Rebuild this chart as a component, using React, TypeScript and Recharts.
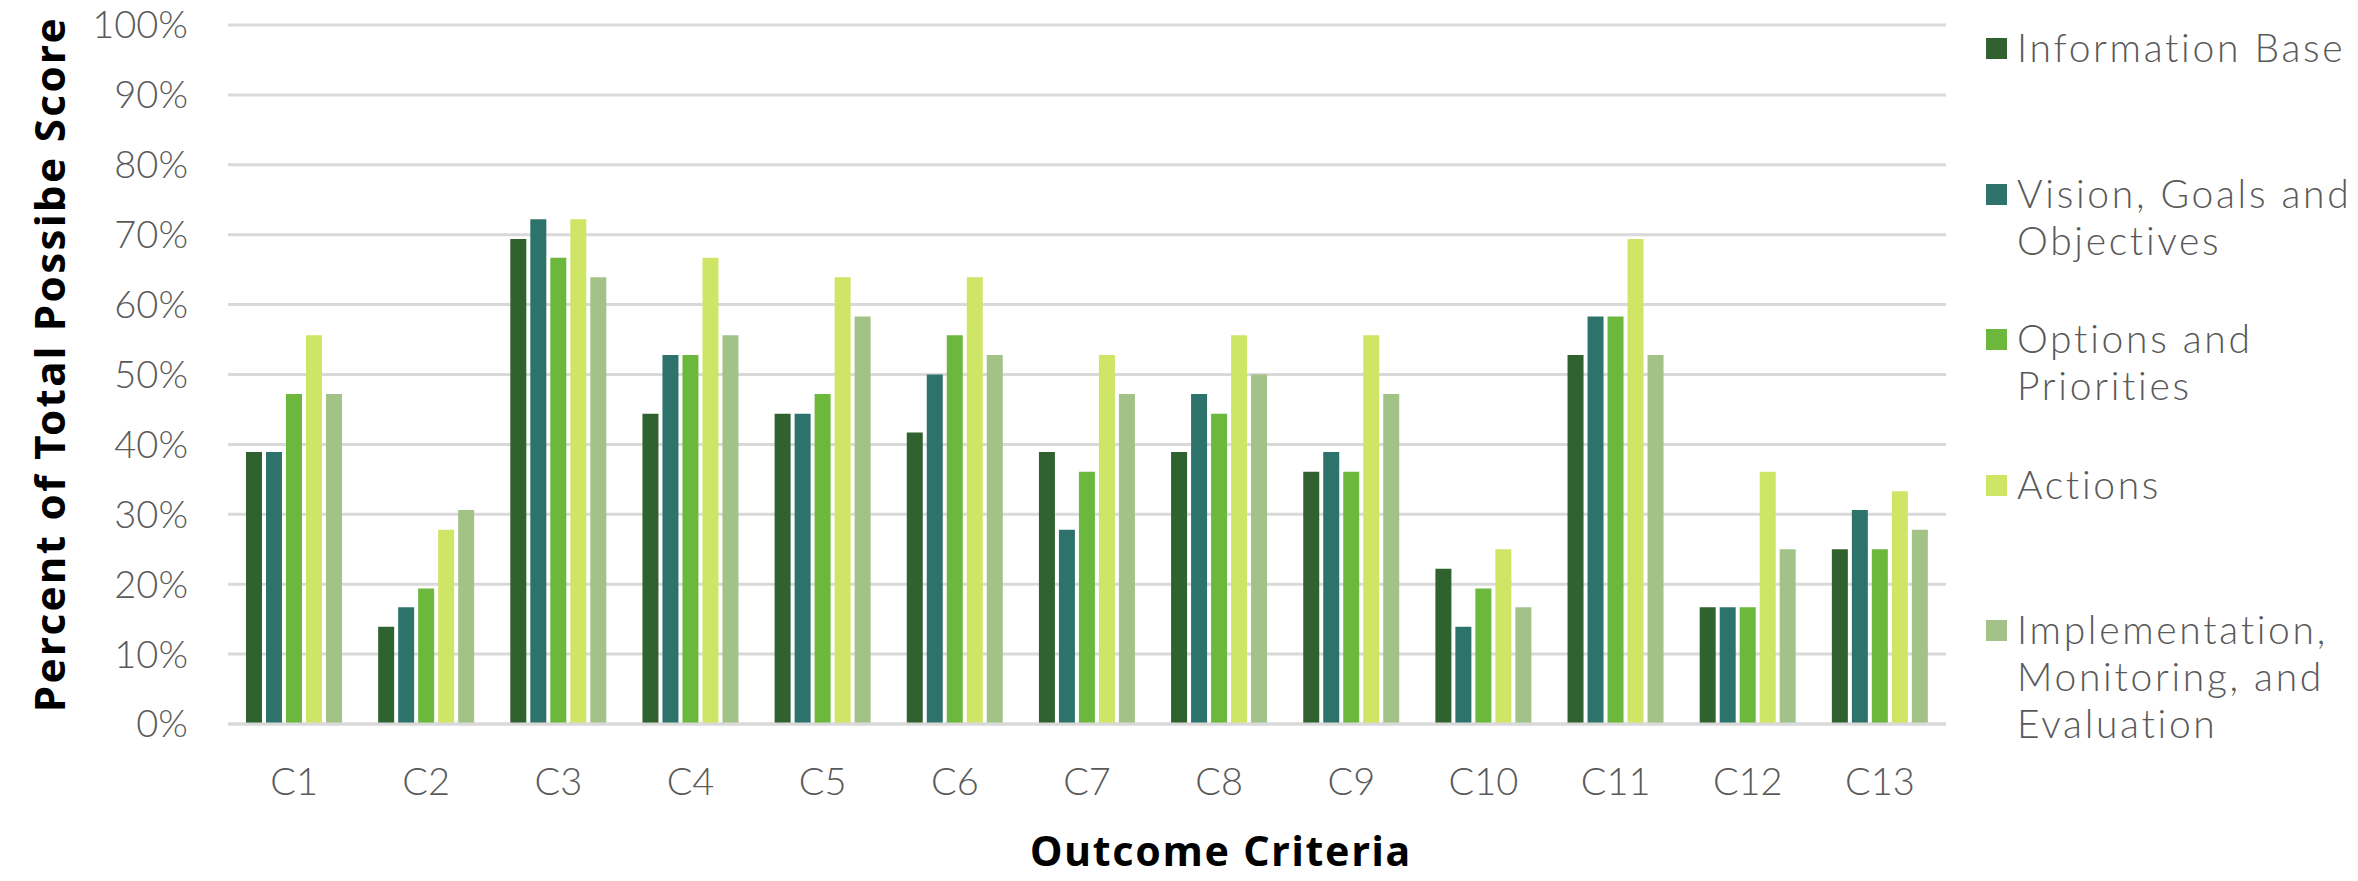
import React from 'react';
import { BarChart, Bar, XAxis, YAxis, CartesianGrid } from 'recharts';

// Outcome criteria along the x axis
const criteria = ['C1', 'C2', 'C3', 'C4', 'C5', 'C6', 'C7', 'C8', 'C9', 'C10', 'C11', 'C12', 'C13'];

// Share of total possible score per plan component (fractions)
const informationBase = [0.389, 0.139, 0.694, 0.444, 0.444, 0.417, 0.389, 0.389, 0.361, 0.222, 0.528, 0.167, 0.25];
const visionGoals = [0.389, 0.167, 0.722, 0.528, 0.444, 0.5, 0.278, 0.472, 0.389, 0.139, 0.583, 0.167, 0.306];
const optionsPriorities = [0.472, 0.194, 0.667, 0.528, 0.472, 0.556, 0.361, 0.444, 0.361, 0.194, 0.583, 0.167, 0.25];
const actions = [0.556, 0.278, 0.722, 0.667, 0.639, 0.639, 0.528, 0.556, 0.556, 0.25, 0.694, 0.361, 0.333];
const implementation = [0.472, 0.306, 0.639, 0.556, 0.583, 0.528, 0.472, 0.5, 0.472, 0.167, 0.528, 0.25, 0.278];

const yTicks = [0, 0.1, 0.2, 0.3, 0.4, 0.5, 0.6, 0.7, 0.8, 0.9, 1];

const series = [
  { key: 'ib', values: informationBase, color: '#2f622e', lines: ['Information Base'] },
  { key: 'vg', values: visionGoals, color: '#2e736b', lines: ['Vision, Goals and', 'Objectives'] },
  { key: 'op', values: optionsPriorities, color: '#6cb83d', lines: ['Options and', 'Priorities'] },
  { key: 'ac', values: actions, color: '#cfe566', lines: ['Actions'] },
  { key: 'im', values: implementation, color: '#a2c288', lines: ['Implementation,', 'Monitoring, and', 'Evaluation'] },
];

const data = criteria.map((name, i) => {
  const row: Record<string, any> = { name };
  series.forEach(s => { row[s.key] = s.values[i]; });
  return row;
});

const lightFont = 'Lato, "Noto Sans", sans-serif';
const boldFont = '"Noto Sans", "DejaVu Sans", sans-serif';

// legend sits to the right of the plot, one block per series
function SideLegend() {
  return (
    <div style={{ position: 'absolute', left: 1986, top: 0, width: 372, height: 881, fontFamily: lightFont, fontWeight: 300 }}>
      {series.map((s, i) => (
        <div key={s.key} style={{ position: 'absolute', left: 0, top: 24 + i * 145.5 }}>
          <span style={{ position: 'absolute', left: 0, top: 14, width: 21, height: 21, background: s.color }} />
          {s.lines.map((ln, j) => (
            <div key={j} style={{ marginLeft: 31, fontSize: 39, lineHeight: '47px', color: '#595959', letterSpacing: 2.7, whiteSpace: 'nowrap' }}>
              {ln}
            </div>
          ))}
        </div>
      ))}
    </div>
  );
}

export default function App() {
  return (
    <div style={{ position: 'relative', width: 2358, height: 881, background: '#fff' }}>
      <style>{`body{margin:0}`}</style>
      <BarChart
        width={2358}
        height={881}
        data={data}
        margin={{ top: 25, right: 412, left: 0, bottom: 0 }}
        barCategoryGap={18}
        barGap={4}
      >
        <CartesianGrid vertical={false} stroke="#d9d9d9" strokeWidth={3} />
        <XAxis
          dataKey="name"
          height={157}
          axisLine={{ stroke: '#d9d9d9', strokeWidth: 3 }}
          tickLine={false}
          tickMargin={38}
          tick={{ fontSize: 38, fill: '#595959', fontFamily: lightFont, fontWeight: 300 }}
          label={{
            content: ({ viewBox }: any) => (
              <text
                x={viewBox.x + 993}
                y={866}
                textAnchor="middle"
                fontFamily={boldFont}
                fontWeight={700}
                fontSize={41}
                letterSpacing={1.8}
                fill="#000"
              >
                Outcome Criteria
              </text>
            ),
          }}
        />
        <YAxis
          width={228}
          domain={[0, 1]}
          ticks={yTicks}
          axisLine={false}
          tickLine={false}
          tickSize={0}
          tickMargin={40}
          tickFormatter={(v: number) => `${Math.round(v * 100)}%`}
          tick={{ fontSize: 38, fill: '#595959', fontFamily: lightFont, fontWeight: 300 }}
          label={{
            content: () => (
              <text
                x={48}
                y={364}
                transform="rotate(-90 48 364)"
                textAnchor="middle"
                dominantBaseline="central"
                fontFamily={boldFont}
                fontWeight={700}
                fontSize={42}
                letterSpacing={2.4}
                fill="#000"
              >
                Percent of Total Possibe Score
              </text>
            ),
          }}
        />
        {series.map(s => (
          <Bar key={s.key} dataKey={s.key} fill={s.color} isAnimationActive={false} />
        ))}
      </BarChart>
      <SideLegend />
    </div>
  );
}
